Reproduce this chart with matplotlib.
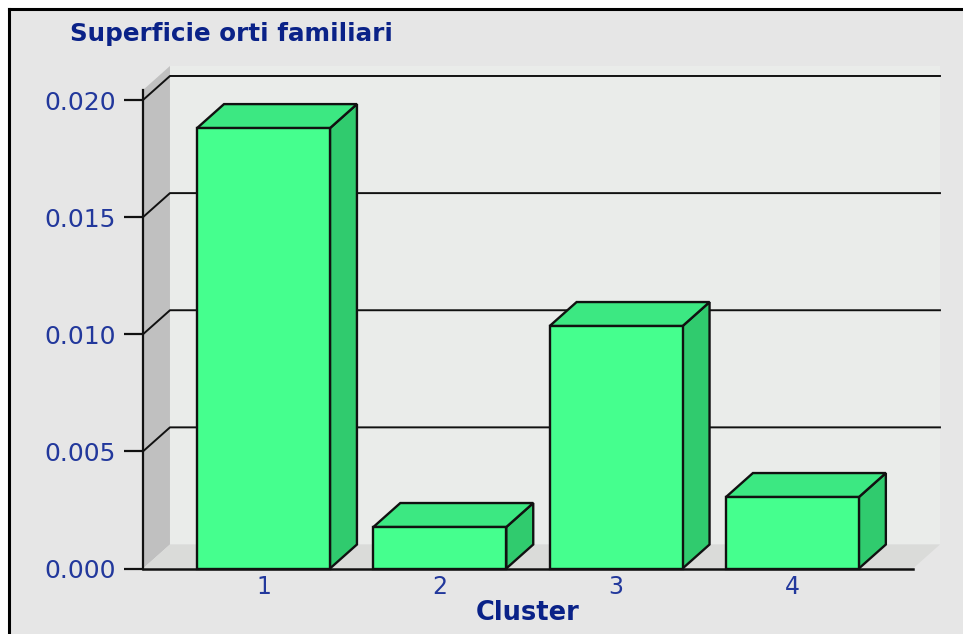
import matplotlib
matplotlib.use('Agg')
from matplotlib import pyplot as plt
from matplotlib.patches import Polygon, Rectangle

clusters = [1, 2, 3, 4]
values = [0.0188, 0.00177, 0.01035, 0.00305]
y_ticks = [0.000, 0.005, 0.010, 0.015, 0.020]

W, H = 963, 634
BAR_W = 0.754
DX = 0.153     # depth of the fake 3d, in data units
DY = 0.001025
BLUE = '#22389c'
NAVY = '#0a2288'
EDGE = '#111111'


def add_bar(ax, x, v):
    l, r = x - BAR_W / 2, x + BAR_W / 2
    ax.add_patch(Polygon([(r, 0), (r + DX, DY), (r + DX, v + DY), (r, v)],
                         fc='#30cb6e', ec=EDGE, lw=1.7, zorder=5, clip_on=False))
    ax.add_patch(Polygon([(l, v), (l + DX, v + DY), (r + DX, v + DY), (r, v)],
                         fc='#3ce882', ec=EDGE, lw=1.7, zorder=5, clip_on=False))
    ax.add_patch(Rectangle((l, 0), BAR_W, v,
                           fc='#45ff8e', ec=EDGE, lw=1.7, zorder=6, clip_on=False))


plt.rcParams['font.family'] = ['DejaVu Sans']
fig = plt.figure(figsize=(W / 100, H / 100), dpi=100, facecolor='white')

# panel background and black border on the left and top
fig.add_artist(Rectangle((10 / W, 0), 1, 1 - 10 / H, transform=fig.transFigure,
                         fc='#e6e6e6', ec='none', zorder=-5))
fig.add_artist(plt.Line2D([9 / W, 9 / W], [0, 1 - 9 / H], color='black', lw=2.2, zorder=-4))
fig.add_artist(plt.Line2D([9 / W, 1], [1 - 9 / H, 1 - 9 / H], color='black', lw=2.2, zorder=-4))

ax = fig.add_axes([143 / W, 1 - 568.5 / H, 770 / W, 468.5 / H])
ax.patch.set_visible(False)
ax.set_xlim(0.3165, 4.684)
ax.set_ylim(0, 0.020)
top = 0.020 + 10 / 468.5 * 0.020  # walls run a bit above the last tick
x0, x1 = ax.get_xlim()

# back wall, side wall, floor
ax.add_patch(Rectangle((x0 + DX, DY), x1 - x0, top, fc='#eaecea', ec='none', zorder=1, clip_on=False))
ax.add_patch(Polygon([(x0, 0), (x0 + DX, DY), (x0 + DX, top + DY), (x0, top)],
                     fc='#c0c0c0', ec='none', zorder=1, clip_on=False))
ax.add_patch(Polygon([(x0, 0), (x1, 0), (x1 + DX, DY), (x0 + DX, DY)],
                     fc='#dadbd9', ec='none', zorder=1, clip_on=False))

# gridlines go back along the side wall then across the back wall
for t in y_ticks[1:]:
    ax.plot([x0, x0 + DX, x1 + DX], [t, t + DY, t + DY], color=EDGE, lw=1.4, zorder=2, clip_on=False)

ax.plot([x0, x0], [0, top], color=EDGE, lw=1.6, zorder=3, clip_on=False)
ax.plot([x0, x1], [0, 0], color=EDGE, lw=1.8, zorder=7, clip_on=False)

for x, v in zip(clusters, values):
    add_bar(ax, x, v)

for s in ax.spines.values():
    s.set_visible(False)
ax.set_xticks(clusters)
ax.set_xticklabels([str(c) for c in clusters])
ax.set_yticks(y_ticks)
ax.set_yticklabels([f'{t:.3f}' for t in y_ticks])
ax.tick_params(axis='x', length=0, pad=5, labelsize=17, labelcolor=BLUE)
ax.tick_params(axis='y', length=13.5, width=1.6, color=EDGE, pad=6, labelsize=18, labelcolor=BLUE)

fig.text(70 / W, 1 - 34 / H, 'Superficie orti familiari', color=NAVY, fontsize=17.7,
         fontweight='bold', va='center', ha='left')
fig.text(528 / W, 1 - 613 / H, 'Cluster', color=NAVY, fontsize=18.5,
         fontweight='bold', va='center', ha='center')

fig.savefig('out.png', dpi=100)
